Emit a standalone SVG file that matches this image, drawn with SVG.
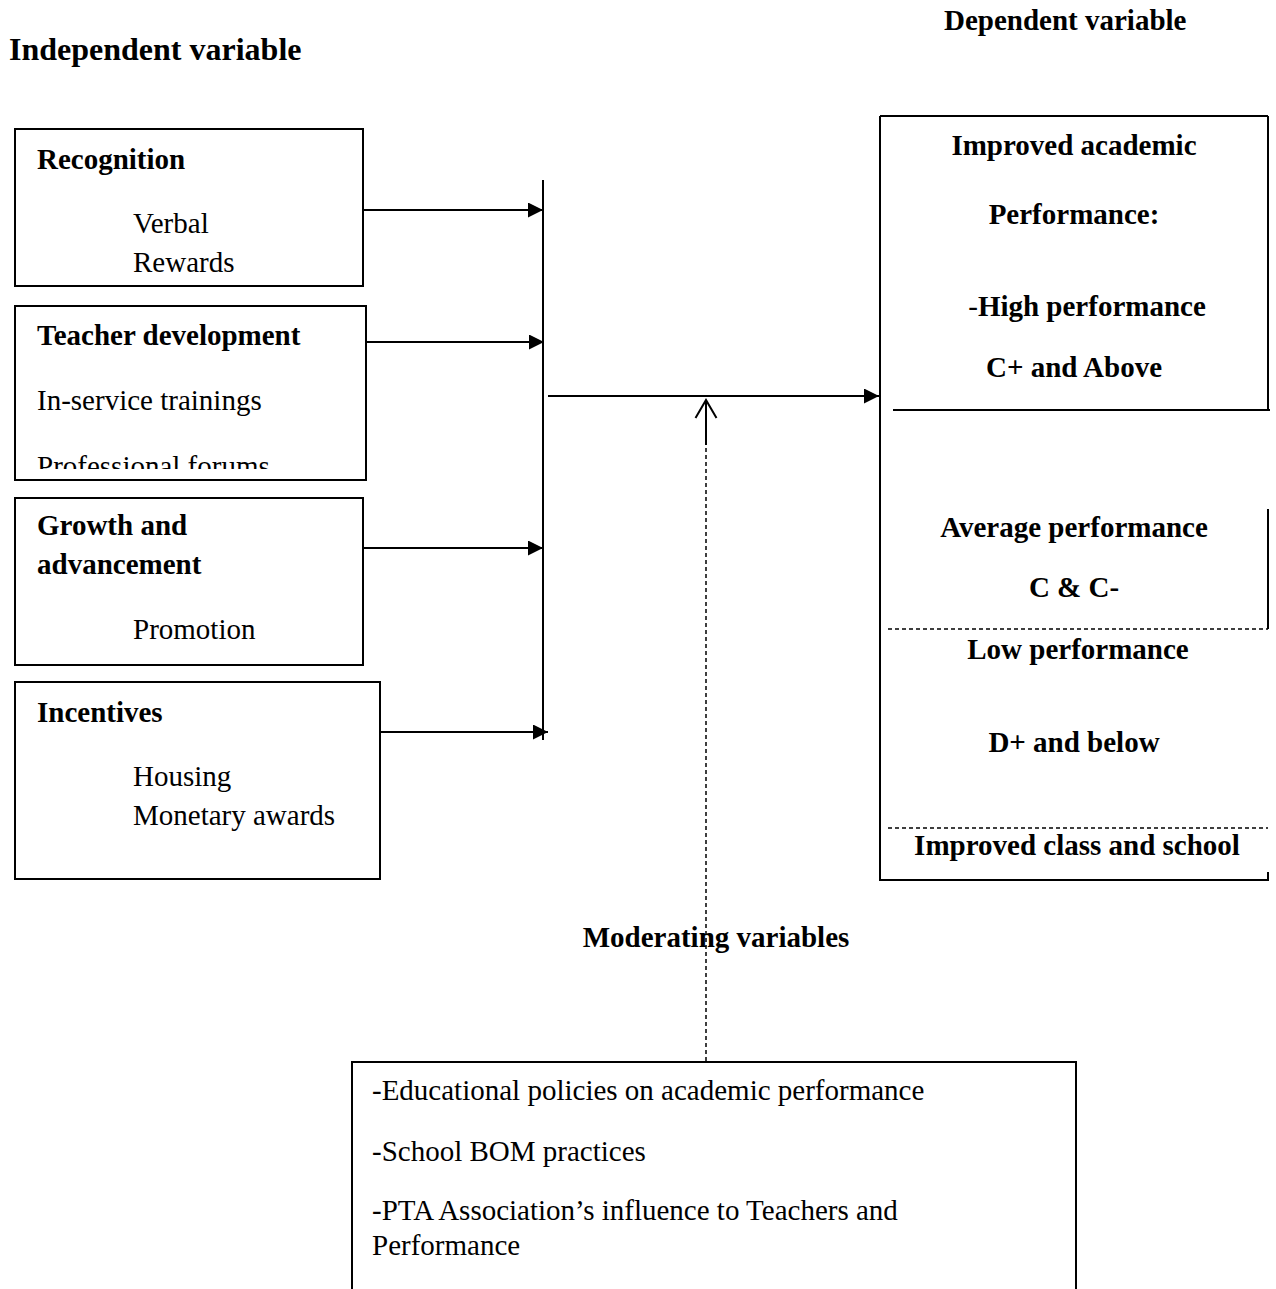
<svg xmlns="http://www.w3.org/2000/svg" width="1276" height="1289" viewBox="0 0 1276 1289">
<style>
text{font-family:"Liberation Serif","Times New Roman",serif;font-size:29px;fill:#000}
.b{font-weight:bold}
.c{text-anchor:middle}
.box{fill:none;stroke:#000;stroke-width:2}
.ln{fill:none;stroke:#000;stroke-width:2}
.dash{fill:none;stroke:#000;stroke-width:1.5;stroke-dasharray:4 3}
</style>
<defs>
<marker id="ah" markerUnits="userSpaceOnUse" markerWidth="16" markerHeight="15" refX="15" refY="7.5" orient="auto">
<path d="M0,0 L15,7.5 L0,15 z" fill="#000"/>
</marker>
<clipPath id="clipTD"><rect x="15" y="306" width="351" height="163"/></clipPath>
</defs>
<rect width="1276" height="1289" fill="#fff"/>

<g id="label-independent"><text class="b" x="9" y="60" style="font-size:32px">Independent variable</text></g>
<g id="label-dependent"><text class="b" x="944" y="30">Dependent variable</text></g>

<g id="node-recognition">
<rect class="box" x="15" y="129" width="348" height="157"/>
<text class="b" x="37" y="169">Recognition</text>
<text x="133" y="233">Verbal</text>
<text x="133" y="272">Rewards</text>
</g>

<g id="node-teacher-development">
<rect class="box" x="15" y="306" width="351" height="174"/>
<text class="b" x="37" y="345">Teacher development</text>
<text x="37" y="410">In-service trainings</text>
<text x="37" y="476" clip-path="url(#clipTD)">Professional forums</text>
</g>

<g id="node-growth">
<rect class="box" x="15" y="498" width="348" height="167"/>
<text class="b" x="37" y="535">Growth and</text>
<text class="b" x="37" y="574">advancement</text>
<text x="133" y="639">Promotion</text>
</g>

<g id="node-incentives">
<rect class="box" x="15" y="682" width="365" height="197"/>
<text class="b" x="37" y="722">Incentives</text>
<text x="133" y="786">Housing</text>
<text x="133" y="825">Monetary awards</text>
</g>

<g id="node-dependent">
<path class="ln" d="M880,116 L1268,116 M880,116 L880,880 L1268,880 L1268,872 M1268,116 L1268,410 M893,410 L1270,410 M1268,509 L1268,629"/>
<path class="dash" d="M888,629 L1268,629 M888,828 L1268,828"/>
<text class="b c" x="1074" y="155">Improved academic</text>
<text class="b c" x="1074" y="224">Performance:</text>
<text class="c" x="1087" y="316"><tspan>-</tspan><tspan class="b">High performance</tspan></text>
<text class="b c" x="1074" y="377">C+ and Above</text>
<text class="b c" x="1074" y="537">Average performance</text>
<text class="b c" x="1074" y="597">C &amp; C-</text>
<text class="b c" x="1078" y="659">Low performance</text>
<text class="b c" x="1074" y="752">D+ and below</text>
<text class="b c" x="1077" y="855">Improved class and school</text>
</g>

<g id="node-moderating">
<text class="b c" x="716" y="947">Moderating variables</text>
<path class="ln" d="M352,1289 L352,1062 L1076,1062 L1076,1289"/>
<text x="372" y="1100">-Educational policies on academic performance</text>
<text x="372" y="1161">-School BOM practices</text>
<text x="372" y="1220">-PTA Association’s influence to Teachers and</text>
<text x="372" y="1255">Performance</text>
</g>

<g id="connectors">
<line class="ln" x1="543" y1="180" x2="543" y2="740"/>
<line class="ln" x1="363" y1="210" x2="543" y2="210" marker-end="url(#ah)"/>
<line class="ln" x1="366" y1="342" x2="544" y2="342" marker-end="url(#ah)"/>
<line class="ln" x1="363" y1="548" x2="543" y2="548" marker-end="url(#ah)"/>
<line class="ln" x1="380" y1="732" x2="548" y2="732" marker-end="url(#ah)"/>
<line class="ln" x1="548" y1="396" x2="879" y2="396" marker-end="url(#ah)"/>
<line class="ln" x1="706" y1="400" x2="706" y2="445"/>
<path class="ln" d="M695.5,418 L706,400 L716.5,418"/>
<line class="dash" x1="706" y1="448" x2="706" y2="1061"/>
</g>
</svg>
